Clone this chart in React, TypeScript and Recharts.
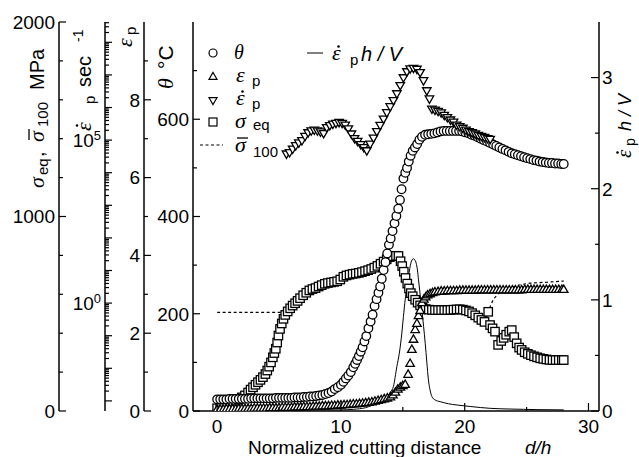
import React from 'react';
import { ComposedChart, Line, XAxis, YAxis, Customized } from 'recharts';

const SANS = '"Liberation Sans", Arial, Helvetica, sans-serif';
const SERIF = '"Liberation Serif", "Times New Roman", serif';

// ---------- axes ----------
const distanceTicks = [0, 5, 10, 15, 20, 25, 30];
const distanceLabels = [0, 10, 20, 30];
const thetaTicks = [0, 100, 200, 300, 400, 500, 600, 700];
const thetaLabels = [0, 200, 400, 600];
const strainTicks = [0, 1, 2, 3, 4, 5, 6, 7, 8, 9];
const strainLabels = [0, 2, 4, 6, 8];
const stressTicks = [0, 200, 400, 600, 800, 1000, 1200, 1400, 1600, 1800, 2000];
const stressLabels = [0, 1000, 2000];
const rateDecades = [-3, -2, -1, 0, 1, 2, 3, 4, 5, 6, 7, 8];
const rateMantissas = [1, 2, 3, 4, 5, 6, 7, 8, 9];
const rateLabels = [1, 100000];
const normRateTicks = [0, 0.5, 1, 1.5, 2, 2.5, 3];
const normRateLabels = [0, 1, 2, 3];

const xDomain: [number, number] = [-1.95, 30.85];
const rateDomain: [number, number] = [4.9e-4, 4.2e8];

// ---------- data: [d/h, value] ----------
// theta (deg C)
const theta: [number, number][] = [
  [0, 24], [0.25, 24], [0.5, 24], [0.75, 24], [1, 25], [1.25, 25], [1.5, 25], [1.75, 25], [2, 25], [2.25, 25],
  [2.5, 25], [2.75, 26], [3, 26], [3.25, 26], [3.5, 26], [3.75, 26], [4, 26], [4.25, 26], [4.5, 26], [4.75, 27],
  [5, 27], [5.25, 27], [5.5, 27], [5.75, 27], [6, 27], [6.25, 28], [6.5, 28], [6.75, 28], [7, 29], [7.25, 29],
  [7.5, 30], [7.75, 30], [8, 31], [8.25, 32], [8.5, 33], [8.75, 35], [9, 37], [9.25, 40], [9.5, 45], [9.75, 49],
  [10, 54], [10.2, 60], [10.4, 67], [10.6, 73], [10.8, 80], [11, 90], [11.15, 97], [11.3, 105], [11.45, 113],
  [11.6, 122], [11.75, 131], [11.9, 143], [12.05, 154], [12.22, 170], [12.4, 184], [12.56, 198], [12.72, 216],
  [12.88, 230], [13.03, 243], [13.17, 256], [13.3, 272], [13.45, 290], [13.6, 306], [13.74, 324], [13.88, 342],
  [14.02, 355], [14.17, 370], [14.33, 386], [14.48, 401], [14.63, 416], [14.77, 434], [14.9, 456], [15.05, 478],
  [15.2, 490], [15.34, 500], [15.48, 513], [15.63, 525], [15.8, 535], [15.98, 542], [16.16, 549], [16.34, 558],
  [16.55, 564], [16.8, 568], [17.05, 569], [17.3, 570], [17.55, 571], [17.8, 573], [18.05, 575], [18.3, 576],
  [18.55, 576], [18.8, 576], [19.05, 576], [19.3, 576], [19.55, 576], [19.8, 575], [20.05, 573], [20.3, 571],
  [20.55, 568], [20.8, 566], [21.05, 563], [21.3, 560], [21.55, 557], [21.8, 554], [22.05, 551], [22.3, 548],
  [22.55, 545], [22.8, 542], [23.05, 539], [23.3, 536], [23.55, 533], [23.8, 530], [24.05, 528], [24.3, 526],
  [24.55, 524], [24.8, 522], [25.05, 520], [25.3, 518], [25.55, 516], [25.8, 515], [26.05, 513], [26.3, 512],
  [26.55, 511], [26.8, 510], [27.05, 510], [27.3, 509], [27.55, 509], [27.8, 508], [28, 508],
];

// equivalent plastic strain
const strain: [number, number][] = [
  [0, 0.03], [0.25, 0.03], [0.5, 0.03], [0.75, 0.04], [1, 0.04], [1.25, 0.04], [1.5, 0.04], [1.75, 0.05], [2, 0.05],
  [2.25, 0.05], [2.5, 0.05], [2.75, 0.05], [3, 0.06], [3.25, 0.06], [3.5, 0.06], [3.75, 0.06], [4, 0.06], [4.25, 0.07],
  [4.5, 0.07], [4.75, 0.07], [5, 0.07], [5.25, 0.08], [5.5, 0.08], [5.75, 0.08], [6, 0.08], [6.25, 0.09], [6.5, 0.09],
  [6.75, 0.09], [7, 0.1], [7.25, 0.1], [7.5, 0.1], [7.75, 0.11], [8, 0.11], [8.25, 0.11], [8.5, 0.12], [8.75, 0.12],
  [9, 0.12], [9.25, 0.13], [9.5, 0.13], [9.75, 0.14], [10, 0.14], [10.25, 0.15], [10.5, 0.15], [10.75, 0.16],
  [11, 0.17], [11.25, 0.17], [11.5, 0.18], [11.75, 0.19], [12, 0.2], [12.25, 0.21], [12.5, 0.22], [12.75, 0.24],
  [13, 0.26], [13.25, 0.28], [13.5, 0.3], [13.75, 0.32], [14, 0.35], [14.2, 0.4], [14.4, 0.47], [14.6, 0.55],
  [14.8, 0.6], [15, 0.64], [15.19, 0.67], [15.43, 0.93], [15.59, 1.21], [15.73, 1.57], [15.86, 1.83], [16, 2.08],
  [16.14, 2.24], [16.27, 2.44], [16.4, 2.57], [16.54, 2.77], [16.7, 2.86], [16.85, 2.92], [17, 2.97], [17.2, 3.0],
  [17.4, 3.03], [17.6, 3.05], [17.85, 3.06], [18.1, 3.07], [18.35, 3.07], [18.6, 3.08], [18.85, 3.08], [19.1, 3.08],
  [19.35, 3.08], [19.6, 3.09], [19.85, 3.09], [20.1, 3.09], [20.35, 3.09], [20.6, 3.09], [20.85, 3.09], [21.1, 3.1],
  [21.35, 3.1], [21.6, 3.1], [21.85, 3.1], [22.1, 3.1], [22.35, 3.1], [22.6, 3.1], [22.85, 3.1], [23.1, 3.1],
  [23.35, 3.1], [23.6, 3.1], [23.85, 3.1], [24.1, 3.1], [24.35, 3.1], [24.6, 3.1], [24.85, 3.11], [25.1, 3.11],
  [25.35, 3.11], [25.6, 3.11], [25.85, 3.11], [26.1, 3.11], [26.35, 3.11], [26.6, 3.11], [26.85, 3.11], [27.1, 3.11],
  [27.35, 3.11], [27.6, 3.11], [27.85, 3.11], [28, 3.11],
];

// strain rate (1/s)
const strainRate: [number, number][] = [
  [5.6, 3.9e4], [5.85, 4.3e4], [6.1, 5.5e4], [6.35, 7.0e4], [6.6, 8.5e4], [6.85, 1.0e5], [7.1, 1.35e5], [7.35, 1.75e5],
  [7.6, 2.0e5], [7.85, 2.1e5], [8.1, 2.0e5], [8.35, 1.85e5], [8.6, 1.65e5], [8.85, 2.5e5], [9.1, 2.9e5], [9.35, 3.2e5],
  [9.6, 3.4e5], [9.85, 3.6e5], [10.1, 3.4e5], [10.35, 3.0e5], [10.6, 2.3e5], [10.85, 1.6e5], [11.1, 1.15e5],
  [11.35, 9.5e4], [11.6, 7.6e4], [11.85, 6.1e4], [12.09, 4.9e4], [12.36, 7.8e4], [12.63, 1.2e5], [12.9, 1.9e5],
  [13.17, 2.95e5], [13.44, 4.6e5], [13.71, 7.2e5], [13.98, 1.1e6], [14.24, 1.7e6], [14.52, 2.75e6], [14.79, 4.9e6],
  [15.05, 8.5e6], [15.33, 1.3e7], [15.59, 1.6e7], [15.86, 1.66e7], [16.14, 1.55e7], [16.4, 1.23e7], [16.67, 6.9e6],
  [16.94, 3.4e6], [17.15, 1.9e6], [17.35, 9.3e5], [17.6, 8.6e5], [17.85, 7.9e5], [18.1, 7.1e5], [18.35, 6.0e5],
  [18.6, 5.1e5], [18.85, 4.3e5], [19.1, 3.7e5], [19.35, 3.0e5], [19.6, 2.7e5], [19.85, 2.4e5], [20.1, 2.1e5],
  [20.35, 1.9e5], [20.6, 1.75e5], [20.85, 1.6e5], [21.1, 1.45e5], [21.35, 1.35e5], [21.6, 1.25e5], [21.85, 1.15e5],
  [22.06, 1.1e5],
];

// equivalent stress (MPa)
const sigmaEq: [number, number][] = [
  [0, 14], [0.25, 20], [0.5, 26], [0.75, 33], [1, 40], [1.25, 47], [1.5, 53], [1.75, 60], [2, 70], [2.25, 80],
  [2.5, 95], [2.7, 110], [2.9, 122], [3.1, 135], [3.3, 148], [3.5, 160], [3.7, 174], [3.9, 190], [4.05, 208],
  [4.2, 228], [4.35, 250], [4.5, 276], [4.62, 298], [4.74, 320], [4.85, 352], [4.95, 388], [5.08, 422], [5.22, 450],
  [5.36, 474], [5.5, 494], [5.7, 512], [5.9, 528], [6.1, 542], [6.3, 554], [6.5, 566], [6.7, 580], [6.95, 595],
  [7.2, 608], [7.45, 620], [7.7, 627], [7.95, 632], [8.2, 640], [8.45, 647], [8.7, 654], [8.95, 658], [9.2, 661],
  [9.45, 664], [9.7, 667], [9.95, 676], [10.2, 690], [10.45, 697], [10.7, 701], [10.95, 705], [11.2, 707],
  [11.45, 710], [11.7, 714], [11.95, 719], [12.2, 724], [12.45, 730], [12.7, 737], [12.95, 746], [13.2, 757],
  [13.45, 768], [13.7, 780], [13.95, 791], [14.2, 796], [14.45, 798], [14.65, 797], [14.82, 770], [14.95, 745],
  [15.08, 716], [15.22, 684], [15.36, 655], [15.5, 630], [15.65, 606], [15.8, 590], [16, 572], [16.2, 557],
  [16.4, 543], [16.6, 531], [16.85, 524], [17.1, 521], [17.35, 520], [17.6, 519], [17.85, 519], [18.1, 519],
  [18.35, 519], [18.6, 519], [18.85, 520], [19.1, 521], [19.35, 522], [19.6, 523], [19.85, 521], [20.1, 517],
  [20.35, 512], [20.6, 503], [20.85, 492], [21.1, 480], [21.35, 468], [21.6, 458], [21.9, 510], [22.05, 442],
  [22.25, 425], [22.45, 408], [22.7, 340], [22.95, 360], [23.15, 376], [23.35, 392], [23.6, 408], [23.8, 416],
  [24, 380], [24.2, 348], [24.4, 326], [24.6, 314], [24.85, 302], [25.1, 294], [25.35, 287], [25.6, 281],
  [25.85, 276], [26.1, 271], [26.35, 268], [26.6, 265], [26.85, 263], [27.1, 262], [27.35, 262], [27.6, 262],
  [27.85, 262], [28, 262],
];

// reference flow stress sigma-bar 100 (MPa)
const sigma100: [number, number][] = [
  [0, 507], [5.6, 507], [6, 535], [7, 597], [8, 634], [9, 659], [10, 680], [11, 705], [12, 720], [13, 748],
  [14, 793], [14.5, 798], [15, 735], [15.5, 630], [16, 572], [16.6, 531], [17, 521], [18, 519], [19, 521],
  [19.6, 523], [20.1, 517], [20.6, 503], [21.1, 480], [21.6, 458], [21.9, 510], [22.3, 571], [22.6, 595],
  [22.9, 613], [23.4, 628], [23.95, 639], [24.6, 650], [25.3, 657], [26, 660], [26.65, 662], [27.3, 665], [28, 668],
];

// normalized strain rate (strain rate * h / V)
const normRate: [number, number][] = [
  [0, 0.01], [2, 0.01], [4, 0.01], [6, 0.01], [8, 0.01], [10, 0.01], [11, 0.015], [12, 0.03], [12.5, 0.05],
  [13, 0.07], [13.57, 0.11], [14, 0.17], [14.24, 0.22], [14.52, 0.4], [14.72, 0.52], [14.92, 0.7], [15.05, 0.85],
  [15.19, 1.0], [15.33, 1.12], [15.46, 1.21], [15.56, 1.28], [15.65, 1.33], [15.75, 1.36], [15.86, 1.37],
  [15.97, 1.36], [16.08, 1.33], [16.18, 1.27], [16.27, 1.18], [16.4, 1.05], [16.54, 0.91], [16.68, 0.76],
  [16.81, 0.61], [16.94, 0.44], [17.07, 0.28], [17.2, 0.19], [17.35, 0.13], [17.6, 0.1], [18.02, 0.084],
  [18.7, 0.065], [19.37, 0.054], [20.5, 0.04], [22.06, 0.024], [23.5, 0.018], [24.75, 0.015], [26, 0.012], [28, 0.01],
];

const rows = (pts: [number, number][]) => pts.map(([d, v]) => ({ d, v }));

const rateTicks: number[] = [];
rateDecades.forEach((k) =>
  rateMantissas.forEach((m) => {
    const t = m * Math.pow(10, k);
    if (t >= rateDomain[0] && t <= rateDomain[1]) rateTicks.push(t);
  })
);
const isDecade = (v: number) => Math.abs(Math.log10(v) - Math.round(Math.log10(v))) < 1e-9;

// ---------- markers ----------
const ok = (p: any) => typeof p.cx === 'number' && typeof p.cy === 'number' && !Number.isNaN(p.cy);
const triPath = (cx: number, cy: number, s: number, down: boolean) => {
  const h = s * 0.866;
  return down
    ? `M${cx},${cy + (2 * h) / 3}L${cx - s / 2},${cy - h / 3}L${cx + s / 2},${cy - h / 3}Z`
    : `M${cx},${cy - (2 * h) / 3}L${cx - s / 2},${cy + h / 3}L${cx + s / 2},${cy + h / 3}Z`;
};
const SW = 1.3;
const CircleDot = (p: any) =>
  ok(p) ? <circle key={p.key} cx={p.cx} cy={p.cy} r={4.3} fill="#fff" stroke="#000" strokeWidth={SW} /> : <g key={p.key} />;
const SquareDot = (p: any) =>
  ok(p) ? <rect key={p.key} x={p.cx - 4.2} y={p.cy - 4.2} width={8.4} height={8.4} fill="#fff" stroke="#000" strokeWidth={SW} /> : <g key={p.key} />;
const UpDot = (p: any) =>
  ok(p) ? <path key={p.key} d={triPath(p.cx, p.cy, 8.5, false)} fill="#fff" stroke="#000" strokeWidth={SW} /> : <g key={p.key} />;
const DownDot = (p: any) =>
  ok(p) ? <path key={p.key} d={triPath(p.cx, p.cy, 8.5, true)} fill="#fff" stroke="#000" strokeWidth={SW} /> : <g key={p.key} />;

// ---------- ticks ----------
const axisLine = { stroke: '#000', strokeWidth: 1.5 };
const numStyle = { fontSize: 19, fontFamily: SANS, fill: '#000' };

const leftTick =
  (labels: number[], isMajor: (v: number) => boolean, render: (v: number) => React.ReactNode = (v) => String(v)) =>
  (p: any) => {
    const v = p.payload.value;
    const lab = labels.includes(v);
    return (
      <g>
        <line x1={p.x} x2={p.x + (isMajor(v) ? 7 : 4)} y1={p.y} y2={p.y} stroke="#000" strokeWidth={1.2} />
        {lab && (
          <text x={p.x - 4} y={p.y} dy="0.36em" textAnchor="end" {...numStyle}>
            {render(v)}
          </text>
        )}
      </g>
    );
  };

const thetaTick = leftTick(thetaLabels, (v) => thetaLabels.includes(v));
const strainTick = leftTick(strainLabels, (v) => strainLabels.includes(v));
const stressTick = leftTick(stressLabels, (v) => v % 1000 === 0);
const rateTick = leftTick(rateLabels, isDecade, (v) => (
  <>
    <tspan>10</tspan>
    <tspan dy="-0.55em" fontSize={13}>{Math.round(Math.log10(v))}</tspan>
  </>
));

const rightTick = (p: any) => {
  const v = p.payload.value;
  const lab = normRateLabels.includes(v);
  return (
    <g>
      <line x1={p.x} x2={p.x - (lab ? 8 : 4)} y1={p.y} y2={p.y} stroke="#000" strokeWidth={1.2} />
      {lab && (
        <text x={p.x + 3} y={p.y} dy="0.36em" textAnchor="start" {...numStyle}>
          {v}
        </text>
      )}
    </g>
  );
};

const bottomTick = (p: any) => {
  const v = p.payload.value;
  const lab = distanceLabels.includes(v);
  return (
    <g>
      <line x1={p.x} x2={p.x} y1={p.y} y2={p.y - (lab ? 8 : 4)} stroke="#000" strokeWidth={1.2} />
      {lab && (
        <text x={p.x} y={p.y + 22} textAnchor="middle" {...numStyle}>
          {v}
        </text>
      )}
    </g>
  );
};

const topTick = (p: any) => {
  const v = p.payload.value;
  const lab = distanceLabels.includes(v);
  return <line x1={p.x} x2={p.x} y1={p.y} y2={p.y + (lab ? 8 : 4)} stroke="#000" strokeWidth={1.2} />;
};

// ---------- overlay: legend and axis titles ----------
const greek = { fontFamily: SERIF, fontStyle: 'italic' as const };
const Dot = ({ x, y }: { x: number; y: number }) => <circle cx={x} cy={y} r={1.3} fill="#000" />;
const Bar = ({ x, y, w }: { x: number; y: number; w: number }) => (
  <line x1={x} x2={x + w} y1={y} y2={y} stroke="#000" strokeWidth={1.3} />
);
const Rot = ({ x, y, children }: { x: number; y: number; children: React.ReactNode }) => (
  <g transform={`translate(${x} ${y}) rotate(-90)`}>{children}</g>
);

const Overlay = () => (
  <g fill="#000" fontFamily={SANS}>
    {/* marker legend */}
    <circle cx={213} cy={53} r={4} fill="#fff" stroke="#000" strokeWidth={1.2} />
    <text x={234} y={59} fontSize={20} {...greek}>θ</text>
    <path d={triPath(213, 77, 8, false)} fill="#fff" stroke="#000" strokeWidth={1.2} />
    <text x={236} y={82} fontSize={22} {...greek}>ε</text>
    <text x={252} y={86} fontSize={15}>p</text>
    <path d={triPath(213, 100, 8, true)} fill="#fff" stroke="#000" strokeWidth={1.2} />
    <text x={236} y={105} fontSize={22} {...greek}>ε</text>
    <Dot x={242.5} y={91.5} />
    <text x={252} y={109} fontSize={15}>p</text>
    <rect x={209} y={118} width={8} height={8} fill="#fff" stroke="#000" strokeWidth={1.2} />
    <text x={235} y={128} fontSize={22} {...greek}>σ</text>
    <text x={253} y={130} fontSize={15}>eq</text>
    <line x1={200} x2={223} y1={145} y2={145} stroke="#000" strokeWidth={1.2} strokeDasharray="3 2.5" />
    <text x={235} y={152} fontSize={22} {...greek}>σ</text>
    <Bar x={237} y={138} w={11} />
    <text x={253} y={157} fontSize={15}>100</text>
    {/* line legend */}
    <line x1={307} x2={323} y1={53} y2={53} stroke="#000" strokeWidth={1} />
    <text x={332} y={60} fontSize={22} {...greek}>ε</text>
    <Dot x={338.5} y={46.5} />
    <text x={350} y={65} fontSize={15}>p</text>
    <text x={361} y={61} fontSize={20} fontStyle="italic">h / V</text>

    {/* left axis titles (rotated, reading bottom to top) */}
    <Rot x={44} y={188}>
      <text x={0} y={0} fontSize={22} {...greek}>σ</text>
      <text x={13} y={4} fontSize={15}>eq</text>
      <text x={31} y={0} fontSize={20}>,</text>
      <text x={46} y={0} fontSize={22} {...greek}>σ</text>
      <Bar x={48} y={-15} w={11} />
      <text x={61} y={4} fontSize={15}>100</text>
      <text x={98} y={0} fontSize={20}>MPa</text>
    </Rot>
    <Rot x={91} y={131}>
      <text x={0} y={0} fontSize={22} {...greek}>ε</text>
      <Dot x={5.5} y={-14} />
      <text x={27} y={4} fontSize={15}>p</text>
      <text x={44} y={0} fontSize={20}>sec</text>
      <text x={89} y={-8} fontSize={14}>-1</text>
    </Rot>
    <Rot x={132} y={47}>
      <text x={0} y={0} fontSize={22} {...greek}>ε</text>
      <text x={12} y={4} fontSize={15}>p</text>
    </Rot>
    <Rot x={173} y={89}>
      <text x={0} y={0} fontSize={22} {...greek}>θ</text>
      <text x={20} y={0} fontSize={21}>°C</text>
    </Rot>
    {/* right axis title */}
    <Rot x={631} y={158}>
      <text x={0} y={0} fontSize={21} {...greek}>ε</text>
      <Dot x={5.5} y={-13.5} />
      <text x={12} y={4} fontSize={14}>p</text>
      <text x={27} y={0} fontSize={18} fontStyle="italic">h / V</text>
    </Rot>
    {/* x axis title */}
    <text x={248} y={454} fontSize={19}>Normalized cutting distance</text>
    <text x={525} y={454} fontSize={19} fontStyle="italic">d/h</text>
  </g>
);

export default function App() {
  return (
    <div style={{ position: 'absolute', left: 0, top: 0, width: 639, height: 457, background: '#fff' }}>
      <ComposedChart width={639} height={457} margin={{ top: 22, right: 0, bottom: 0, left: 4 }}>
        <XAxis xAxisId="bottom" dataKey="d" type="number" domain={xDomain} allowDataOverflow ticks={distanceTicks}
          interval={0} height={46} tickSize={0} tickMargin={0} tickLine={false} tick={bottomTick} axisLine={axisLine} />
        <XAxis xAxisId="top" orientation="top" type="number" domain={xDomain} allowDataOverflow ticks={distanceTicks}
          interval={0} height={0} tickSize={0} tickMargin={0} tickLine={false} tick={topTick} axisLine={axisLine} />
        {/* left axes: ids sorted a..d from the plot outward */}
        <YAxis yAxisId="a_theta" type="number" domain={[0, 800]} allowDataOverflow ticks={thetaTicks} interval={0}
          width={49} tickSize={0} tickMargin={0} tickLine={false} tick={thetaTick} axisLine={axisLine} />
        <YAxis yAxisId="b_strain" type="number" domain={[0, 10]} allowDataOverflow ticks={strainTicks} interval={0}
          width={39} tickSize={0} tickMargin={0} tickLine={false} tick={strainTick} axisLine={axisLine} />
        <YAxis yAxisId="c_rate" type="number" scale="log" domain={rateDomain} allowDataOverflow ticks={rateTicks} interval={0}
          width={46} tickSize={0} tickMargin={0} tickLine={false} tick={rateTick} axisLine={axisLine} />
        <YAxis yAxisId="d_stress" type="number" domain={[0, 2000]} allowDataOverflow ticks={stressTicks} interval={0}
          width={55} tickSize={0} tickMargin={0} tickLine={false} tick={stressTick} axisLine={axisLine} />
        <YAxis yAxisId="norm" orientation="right" type="number" domain={[0, 3.5]} allowDataOverflow ticks={normRateTicks}
          interval={0} width={40} tickSize={0} tickMargin={0} tickLine={false} tick={rightTick} axisLine={axisLine} />

        <Line data={rows(normRate)} dataKey="v" xAxisId="bottom" yAxisId="norm" type="monotone" stroke="#000"
          strokeWidth={1} dot={false} activeDot={false} isAnimationActive={false} />
        <Line data={rows(sigma100)} dataKey="v" xAxisId="bottom" yAxisId="d_stress" type="monotone" stroke="#000"
          strokeWidth={1.2} strokeDasharray="3 2.5" dot={false} activeDot={false} isAnimationActive={false} />
        <Line data={rows(sigmaEq)} dataKey="v" xAxisId="bottom" yAxisId="d_stress" stroke="none" dot={SquareDot}
          activeDot={false} isAnimationActive={false} />
        <Line data={rows(theta)} dataKey="v" xAxisId="bottom" yAxisId="a_theta" stroke="none" dot={CircleDot}
          activeDot={false} isAnimationActive={false} />
        <Line data={rows(strain)} dataKey="v" xAxisId="bottom" yAxisId="b_strain" stroke="none" dot={UpDot}
          activeDot={false} isAnimationActive={false} />
        <Line data={rows(strainRate)} dataKey="v" xAxisId="bottom" yAxisId="c_rate" stroke="none" dot={DownDot}
          activeDot={false} isAnimationActive={false} />
        <Customized component={Overlay} />
      </ComposedChart>
    </div>
  );
}
